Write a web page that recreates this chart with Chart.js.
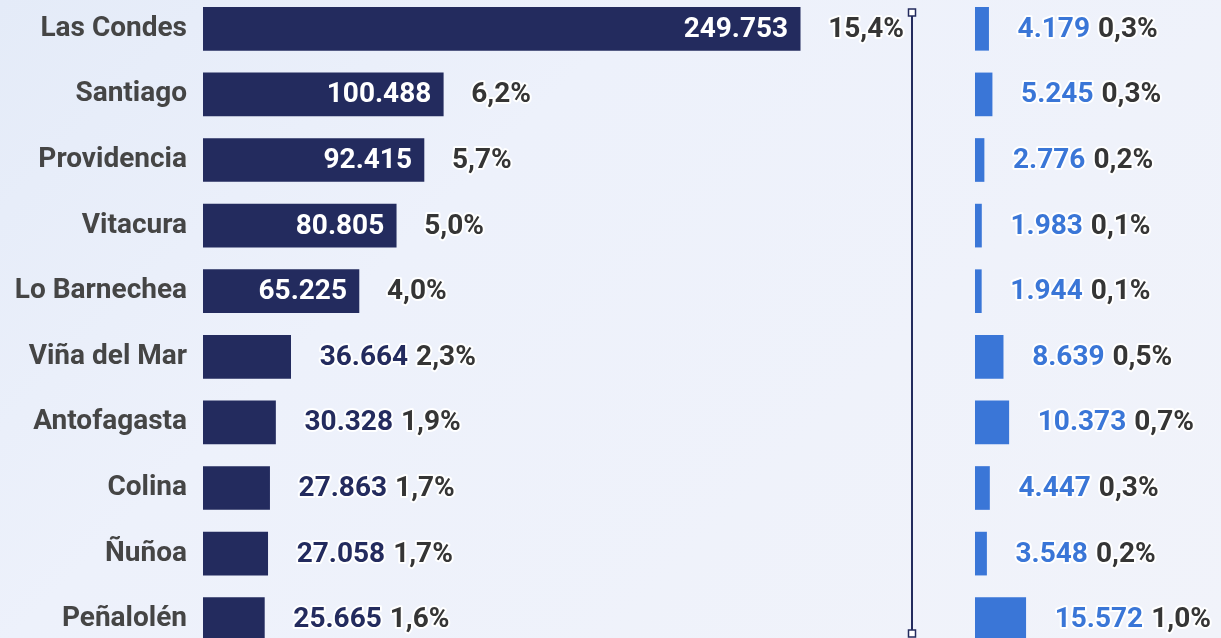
<!DOCTYPE html>
<html>
<head>
<meta charset="utf-8">
<script src="https://cdn.jsdelivr.net/npm/chart.js@4.4.0/dist/chart.umd.min.js"></script>
<style>
  html, body {
    margin: 0;
    padding: 0;
    width: 1221px;
    height: 638px;
    overflow: hidden;
    background: linear-gradient(135deg, #e4ebf8 0%, #edf1fb 35%, #f1f3fa 100%);
  }
  #left, #right { position: absolute; top: -4px; }
  #left { left: 0; }
  #right { left: 915px; }
</style>
</head>
<body>
<canvas id="left" width="920" height="656"></canvas>
<canvas id="right" width="306" height="656"></canvas>
<script>
const categories = ["Las Condes", "Santiago", "Providencia", "Vitacura", "Lo Barnechea",
  "Viña del Mar", "Antofagasta", "Colina", "Ñuñoa", "Peñalolén"];
const leftValues = [249753, 100488, 92415, 80805, 65225, 36664, 30328, 27863, 27058, 25665];
const leftPct = ["15,4%", "6,2%", "5,7%", "5,0%", "4,0%", "2,3%", "1,9%", "1,7%", "1,7%", "1,6%"];
const rightValues = [4179, 5245, 2776, 1983, 1944, 8639, 10373, 4447, 3548, 15572];
const rightPct = ["0,3%", "0,3%", "0,2%", "0,1%", "0,1%", "0,5%", "0,7%", "0,3%", "0,2%", "1,0%"];

const NAVY = "#232b5e";
const BLUE = "#3a76d7";
const FONT = "bold 28px Roboto";

const fmt = (v) => v.toString().replace(/\B(?=(\d{3})+(?!\d))/g, ".");

function haloText(ctx, text, x, y, color) {
  ctx.lineWidth = 4;
  ctx.lineJoin = "round";
  ctx.strokeStyle = "rgba(255,255,255,0.95)";
  ctx.strokeText(text, x, y);
  ctx.fillStyle = color;
  ctx.fillText(text, x, y);
}

// value + percent labels, value goes inside the bar when it is long enough
const barLabels = (pcts, valueColor, insideMin) => ({
  id: "barLabels",
  afterDatasetsDraw(chart) {
    const ctx = chart.ctx;
    const meta = chart.getDatasetMeta(0);
    const data = chart.data.datasets[0].data;
    ctx.save();
    ctx.font = FONT;
    ctx.textBaseline = "middle";
    meta.data.forEach((bar, i) => {
      const txt = fmt(data[i]);
      const y = bar.y + 1;
      if (data[i] >= insideMin) {
        ctx.textAlign = "right";
        ctx.fillStyle = "#ffffff";
        ctx.fillText(txt, bar.x - 12, y);
        ctx.textAlign = "left";
        haloText(ctx, pcts[i], bar.x + 28, y, "#353535");
      } else {
        ctx.textAlign = "left";
        const x0 = bar.x + 29;
        haloText(ctx, txt, x0, y, valueColor);
        const w = ctx.measureText(txt).width;
        haloText(ctx, pcts[i], x0 + w + 8, y, "#353535");
      }
    });
    ctx.restore();
  }
});

const divider = {
  id: "divider",
  afterDraw(chart) {
    const ctx = chart.ctx;
    const x = 912, y1 = 16.5, y2 = 637.5;
    ctx.save();
    ctx.strokeStyle = NAVY;
    ctx.lineWidth = 2;
    ctx.beginPath();
    ctx.moveTo(x, y1);
    ctx.lineTo(x, y2);
    ctx.stroke();
    ctx.lineWidth = 1.5;
    ctx.fillStyle = "#ffffff";
    [y1, y2].forEach((y) => {
      ctx.fillRect(x - 3.5, y - 3.5, 7, 7);
      ctx.strokeRect(x - 3.5, y - 3.5, 7, 7);
    });
    ctx.restore();
  }
};

new Chart(document.getElementById("left"), {
  type: "bar",
  data: {
    labels: categories,
    datasets: [{ data: leftValues, backgroundColor: NAVY, barThickness: 43 }]
  },
  options: {
    indexAxis: "y",
    responsive: false,
    animation: false,
    layout: { padding: { left: 0, right: 20, top: 0, bottom: 0 } },
    plugins: { legend: { display: false }, tooltip: { enabled: false } },
    scales: {
      x: { display: false, min: 0, max: 291500 },
      y: {
        afterFit: (scale) => {
          scale.width = 203;
          scale.paddingTop = 0;
          scale.paddingBottom = 0;
        },
        border: { display: false },
        grid: { display: false, drawTicks: false },
        ticks: { padding: 16, color: "#454545", font: { family: "Roboto", size: 28, weight: "bold" } }
      }
    }
  },
  plugins: [barLabels(leftPct, NAVY, 50000), divider]
});

new Chart(document.getElementById("right"), {
  type: "bar",
  data: {
    labels: categories,
    datasets: [{ data: rightValues, backgroundColor: BLUE, barThickness: 43 }]
  },
  options: {
    indexAxis: "y",
    responsive: false,
    animation: false,
    layout: { padding: { left: 60, right: 0, top: 0, bottom: 0 } },
    plugins: { legend: { display: false }, tooltip: { enabled: false } },
    scales: {
      x: { display: false, min: 0, max: 75500 },
      y: { display: false }
    }
  },
  plugins: [barLabels(rightPct, BLUE, Infinity)]
});
</script>
</body>
</html>
